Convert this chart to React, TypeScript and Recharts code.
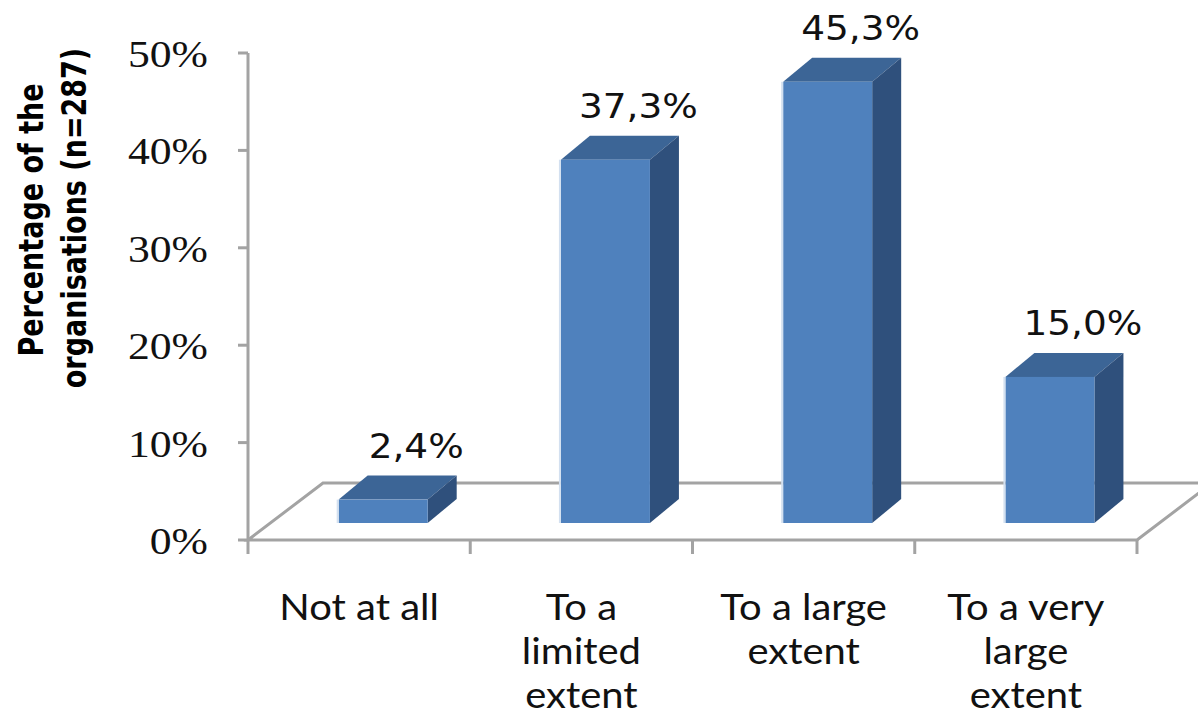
import { Bar, BarChart, LabelList, ReferenceLine, XAxis, YAxis } from "recharts"

const categories = ["Not at all", "To a\nlimited\nextent", "To a large\nextent", "To a very\nlarge\nextent"]
const shares = [2.4, 37.3, 45.3, 15.0]
const shareLabels = ["2,4%", "37,3%", "45,3%", "15,0%"]
const yTicks = [0, 10, 20, 30, 40, 50]

const data = categories.map((name, i) => ({ name, share: shares[i], label: shareLabels[i] }))

// 3D look: bars sit a little back on the floor, and have depth
const SHIFT_X = 24
const SHIFT_Y = -17
const DEPTH_X = 29
const DEPTH_Y = -24
const FLOOR_X = 75
const FLOOR_Y = -57
const GRAY = "#a3a3a3"

const Bar3D = (props: any) => {
    const { x, y, width, height } = props
    if (width == null || height == null) return null
    const fx = x + SHIFT_X
    const fy = y + SHIFT_Y
    const top = `${fx},${fy} ${fx + width},${fy} ${fx + width + DEPTH_X},${fy + DEPTH_Y} ${fx + DEPTH_X},${fy + DEPTH_Y}`
    const side = `${fx + width},${fy} ${fx + width + DEPTH_X},${fy + DEPTH_Y} ${fx + width + DEPTH_X},${fy + height + DEPTH_Y} ${fx + width},${fy + height}`
    return (
        <g>
            <polygon points={top} fill="#3c6596" />
            <polygon points={side} fill="#2f507c" />
            <rect x={fx} y={fy} width={width} height={height} fill="#4f81bd" />
            <rect x={fx - 2} y={fy} width={2} height={height} fill="#d3e0f0" />
        </g>
    )
}

const Floor = (props: any) => {
    const { x1, x2, y1 } = props
    if (x1 == null) return null
    const y = y1
    const n = categories.length
    const step = (x2 - x1) / n
    const marks = []
    for (let i = 0; i <= n; i++) {
        const tx = x1 + i * step
        marks.push(<line key={i} x1={tx} y1={y} x2={tx} y2={y + 14} stroke={GRAY} strokeWidth={3} />)
    }
    return (
        <g>
            <path
                d={`M${x1},${y} L${x1 + FLOOR_X},${y + FLOOR_Y} L${x2 + FLOOR_X},${y + FLOOR_Y} L${x2},${y} Z`}
                fill="none"
                stroke={GRAY}
                strokeWidth={3}
            />
            {marks}
        </g>
    )
}

const ValueLabel = (props: any) => {
    const { x, y, width, value } = props
    const cx = x + width / 2 + SHIFT_X + DEPTH_X + 4
    const by = y + SHIFT_Y + DEPTH_Y - 18
    return (
        <text
            transform={`translate(${cx},${by}) scale(1.1,1)`}
            textAnchor="middle"
            fontFamily="DejaVu Sans"
            fontSize={34}
            fill="#111"
        >
            {value}
        </text>
    )
}

const CategoryTick = (props: any) => {
    const { x, y, payload } = props
    const lines = String(payload.value).split("\n")
    return (
        <text
            transform={`translate(${x},${y}) scale(1.08,1)`}
            textAnchor="middle"
            fontFamily="Lato"
            fontSize={37}
            fill="#111"
        >
            {lines.map((line, i) => (
                <tspan key={i} x={0} y={72 + i * 44}>
                    {line}
                </tspan>
            ))}
        </text>
    )
}

const PercentTick = (props: any) => {
    const { x, y, payload } = props
    return (
        <text
            transform={`translate(${x},${y + 14}) scale(1.12,1)`}
            textAnchor="end"
            fontFamily="Liberation Serif"
            fontSize={39}
            fill="#111"
        >
            {`${payload.value}%`}
        </text>
    )
}

const AxisTitle = () => (
    <g fontFamily="DejaVu Sans" fontWeight="bold" fontSize={27} fill="#000">
        <text transform="translate(43,220) scale(1.28,1) rotate(-90)" textAnchor="middle">
            Percentage of the
        </text>
        <text transform="translate(86,218) scale(1.28,1) rotate(-90)" textAnchor="middle">
            organisations (n=287)
        </text>
    </g>
)

export default function App() {
    return (
        <div style={{ position: "absolute", left: 0, top: 0, background: "#fff" }}>
            <BarChart
                width={1198}
                height={715}
                data={data}
                margin={{ top: 53, right: 61, bottom: 0, left: 0 }}
                barCategoryGap="30%"
            >
                <ReferenceLine y={0} shape={<Floor />} zIndex={-10} />
                <XAxis
                    dataKey="name"
                    height={175}
                    interval={0}
                    axisLine={false}
                    tickLine={false}
                    tick={<CategoryTick />}
                />
                <YAxis
                    width={248}
                    domain={[0, 50]}
                    ticks={yTicks}
                    interval={0}
                    tickSize={10}
                    tickMargin={30}
                    axisLine={{ stroke: GRAY, strokeWidth: 3 }}
                    tickLine={{ stroke: GRAY, strokeWidth: 3 }}
                    tick={<PercentTick />}
                    label={{ content: <AxisTitle /> }}
                />
                <Bar dataKey="share" shape={<Bar3D />} isAnimationActive={false}>
                    <LabelList dataKey="label" content={<ValueLabel />} />
                </Bar>
            </BarChart>
        </div>
    )
}
